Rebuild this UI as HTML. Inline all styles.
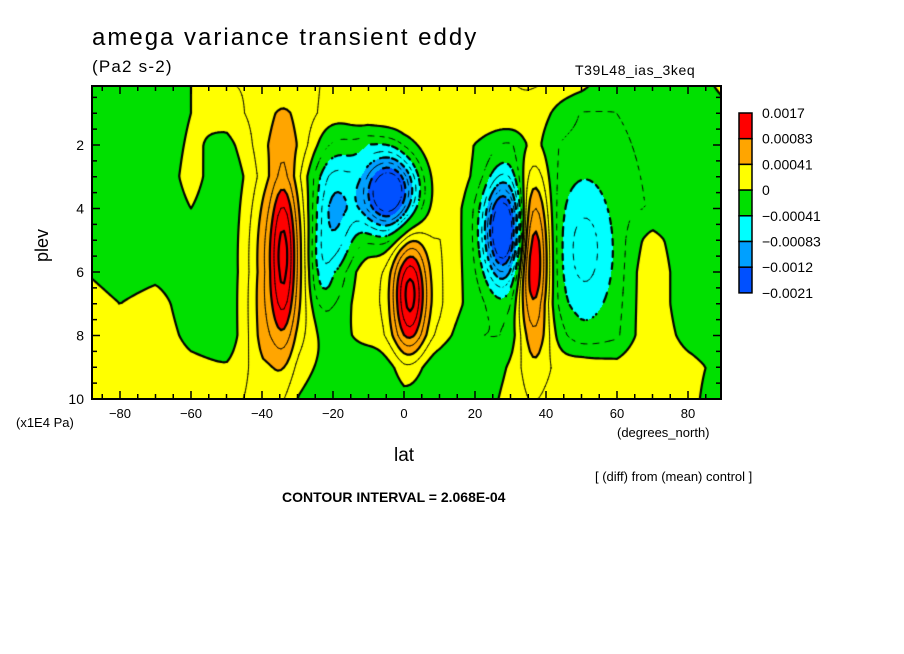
<!DOCTYPE html>
<html><head><meta charset="utf-8">
<style>
body{margin:0;background:#fff;}
#wrap{position:relative;width:904px;height:654px;background:#fff;font-family:"Liberation Sans",sans-serif;color:#000;overflow:hidden;}
.t{position:absolute;white-space:nowrap;}
</style></head><body>
<div id="wrap">
<div class="t" style="left:92px;top:24px;font-size:24px;letter-spacing:2px;">amega variance transient eddy</div>
<div class="t" style="left:92px;top:57px;font-size:17px;letter-spacing:1.2px;">(Pa2 s-2)</div>
<div class="t" style="left:575px;top:62px;font-size:14px;letter-spacing:0.6px;">T39L48_ias_3keq</div>
<canvas id="cv" width="629" height="313" style="position:absolute;left:92px;top:86px;"></canvas>
<svg id="ax" width="904" height="654" style="position:absolute;left:0;top:0;"></svg>
<div class="t" style="left:26px;top:235px;font-size:18px;transform:rotate(-90deg);">plev</div>
<div class="t" style="left:16px;top:415px;font-size:13px;">(x1E4 Pa)</div>
<div class="t" style="left:617px;top:425px;font-size:13px;">(degrees_north)</div>
<div class="t" style="left:394px;top:445px;font-size:19px;">lat</div>
<div class="t" style="left:595px;top:469px;font-size:13px;">[ (diff) from (mean) control ]</div>
<div class="t" style="left:282px;top:489px;font-size:14px;font-weight:bold;">CONTOUR INTERVAL = 2.068E-04</div>
</div>
<script>
// ---- data (values in units of 1e-4 Pa2 s-2) ----
const gridLats=[-90,-80,-70,-60,-50,-40,-30,-20,-10,0,10,20,30,40,50,60,70,80,90];
const gridPlevs=[0,1,2,3,4,5,6,7,8,9,10];
const bgRow0=[-2,-2,-2,0,2,2,2,2,2,2,2,2,2,2,1,-2,-2,-2,1];
const bgRow1=[-2,-2,-2,0,1,2,2,2,2,2,2,2,2,0,-2,-2,-2,-2,-1];
const bgRow2=[-2,-2,-2,0.5,-1,1,1,0,-2,1,2,0,-2,-2,-2,-2,-2,-2,-2];
const bgRow3=[-2,-2,-2,1,-2,-1,-2,-2,-2,0,2,0,-2,-2,-2,-2,-2,-2,-2];
const bgRow4=[-2,-2,-2,0,-2,-1,-2,-2,-2,0,2,-1,-2,-2,-2,-2,-2,-2,-2];
const bgRow5=[-2,-2,-2,-2,-2,-1,-2,0,0,0,2,-1,-2,-2,-2,-2,1,-2,-2];
const bgRow6=[0,-2,-1,-2,-2,-1,-2,2,2,0,2,-1,-2,-2,-2,-2,2,-2,-2];
const bgRow7=[2,0,1.5,-2,-2,0,-2,1,2,0,2,-1,-2,-2,-2,-2,2,-2,-2];
const bgRow8=[2,0,2,-1,-2,1,-2,0,1,1,1,-2,-2,0,-2,-2,2,-1,-2];
const bgRow9=[2,1,2,1,0,1,-2,-1,-2,-1,-2,-2,0,1,2,1,2,1,-1];
const bgRow10=[2,2,2,2,1,2,-2,-2,-2,-1,-2,-2,1,1,2,2,2,1,-2];
const bumpLat=[-34,-34,1.5,-4,-20,-24,28,36.5,51];
const bumpPlev=[5.6,5.4,6.7,3.5,4.6,6.0,4.7,5.6,5.3];
const bumpAmp=[9,6,13,-18,-8,-4,-18,13,-5];
const bumpWLat=[7,2.4,3.5,5.5,4.5,3,3.8,3.4,6];
const bumpWPlev=[2.6,2,1.3,0.85,1.8,1,1.1,2.0,1.7];
const levels=[-12.4,-8.27,-4.136,0,4.136,8.27];
const colors=["#0050ff","#00a0ff","#00ffff","#00e000","#ffff00","#ffa500","#ff0000"];
const cbLabels=["0.0017","0.00083","0.00041","0","\u22120.00041","\u22120.00083","\u22120.0012","\u22120.0021"];
const xTickVals=[-80,-60,-40,-20,0,20,40,60,80];
const yTickVals=[2,4,6,8,10];
const contourStep=2.068;

const bg=[bgRow0,bgRow1,bgRow2,bgRow3,bgRow4,bgRow5,bgRow6,bgRow7,bgRow8,bgRow9,bgRow10];
const X0=92,X1=721,Y0=86,Y1=399;
function xOf(lat){return 120+(lat+80)*3.55;}
function yOf(p){return 145+(p-2)*31.75;}
function latOf(x){return (x-120)/3.55-80;}
function pOf(y){return (y-145)/31.75+2;}
function field(lat,p){
  let fi=(lat-gridLats[0])/10; fi=Math.max(0,Math.min(gridLats.length-1.0001,fi));
  let fj=p-gridPlevs[0]; fj=Math.max(0,Math.min(gridPlevs.length-1.0001,fj));
  const i=Math.floor(fi),j=Math.floor(fj),a=fi-i,b=fj-j;
  let v=bg[j][i]*(1-a)*(1-b)+bg[j][i+1]*a*(1-b)+bg[j+1][i]*(1-a)*b+bg[j+1][i+1]*a*b;
  for(let k=0;k<bumpLat.length;k++){
    const dx=(lat-bumpLat[k])/bumpWLat[k],dy=(p-bumpPlev[k])/bumpWPlev[k];
    v+=bumpAmp[k]*Math.exp(-0.5*(dx*dx+dy*dy));
  }
  return v;
}
function colorIdx(v){let c=0;for(const l of levels){if(v>=l)c++;}return c;}
const cv=document.getElementById('cv');const ctx=cv.getContext('2d');
const W=cv.width,H=cv.height;
const img=ctx.createImageData(W,H);
const rgb=colors.map(h=>[parseInt(h.substr(1,2),16),parseInt(h.substr(3,2),16),parseInt(h.substr(5,2),16)]);
for(let py=0;py<H;py++)for(let px=0;px<W;px++){
  const v=field(latOf(X0+px+0.5),pOf(Y0+py+0.5));const c=rgb[colorIdx(v)];
  const o=(py*W+px)*4;img.data[o]=c[0];img.data[o+1]=c[1];img.data[o+2]=c[2];img.data[o+3]=255;
}
ctx.putImageData(img,0,0);
const S=3,nx=Math.ceil(W/S)+1,ny=Math.ceil(H/S)+1;
const G=[];for(let j=0;j<ny;j++){G.push([]);for(let i=0;i<nx;i++)G[j].push(field(latOf(X0+i*S),pOf(Y0+j*S)));}
ctx.strokeStyle="#000";ctx.lineCap="round";
for(let k=-7;k<=8;k++){
  const L=k*contourStep;const thick=(k%2===0);const neg=L<-0.01;
  ctx.lineWidth=thick?2.2:0.9;ctx.beginPath();
  for(let j=0;j<ny-1;j++)for(let i=0;i<nx-1;i++){
    const v=[G[j][i],G[j][i+1],G[j+1][i+1],G[j+1][i]];
    const P=[[i,j],[i+1,j],[i+1,j+1],[i,j+1]];const pts=[];
    for(let e=0;e<4;e++){const a=v[e],b=v[(e+1)%4];
      if((a<L)!==(b<L)){const t=(L-a)/(b-a);const pa=P[e],pb=P[(e+1)%4];
        pts.push([(pa[0]+t*(pb[0]-pa[0]))*S,(pa[1]+t*(pb[1]-pa[1]))*S]);}}
    if(neg&&Math.floor((i+j)/2)%2===1)continue;
    for(let q=0;q+1<pts.length;q+=2){ctx.moveTo(pts[q][0],pts[q][1]);ctx.lineTo(pts[q+1][0],pts[q+1][1]);}
  }
  ctx.stroke();
}
const NS="http://www.w3.org/2000/svg";const svg=document.getElementById('ax');
function mk(tag,at,txt){const e=document.createElementNS(NS,tag);for(const k in at)e.setAttribute(k,at[k]);if(txt!==undefined)e.textContent=txt;svg.appendChild(e);return e;}
const frame=mk('rect',{x:X0,y:Y0,width:X1-X0,height:Y1-Y0,fill:'none',stroke:'#000','stroke-width':2});


for(let lat=-85;lat<=85;lat+=5){const x=xOf(lat);const len=(lat%20===0)?8:5;
  const t1=mk('line',{x1:x,y1:Y1,x2:x,y2:Y1-len,stroke:'#000','stroke-width':1.5});
  
  
  const t2=mk('line',{x1:x,y1:Y0,x2:x,y2:Y0+len,stroke:'#000','stroke-width':1.5});
  
  }
for(let p=0.5;p<=10;p+=0.5){const y=yOf(p);if(y<Y0)continue;const len=(p%2===0)?8:5;
  const t1=mk('line',{x1:X0,y1:y,x2:X0+len,y2:y,stroke:'#000','stroke-width':1.5});
  
  
  const t2=mk('line',{x1:X1,y1:y,x2:X1-len,y2:y,stroke:'#000','stroke-width':1.5});
  
  }
xTickVals.forEach(v=>{const t=mk('text',{x:xOf(v),y:418,'text-anchor':'middle','font-size':13,'font-family':'Liberation Sans, sans-serif'},v<0?'\u2212'+(-v):String(v));
  
  });
yTickVals.forEach(v=>{const t=mk('text',{x:84,y:yOf(v)+5,'text-anchor':'end','font-size':14,'font-family':'Liberation Sans, sans-serif'},String(v));
  
  });
const cbX=739,cbW=13,cbTop=113,cbH=25.7;
for(let i=0;i<colors.length;i++){
  const r=mk('rect',{x:cbX,y:cbTop+i*cbH,width:cbW,height:cbH,fill:colors[colors.length-1-i],stroke:'#000','stroke-width':1.5});
  
  
}
cbLabels.forEach((s,i)=>{const t=mk('text',{x:762,y:cbTop+i*cbH+5,'font-size':14,'font-family':'Liberation Sans, sans-serif'},s);
  
  });
</script>
</body></html>
